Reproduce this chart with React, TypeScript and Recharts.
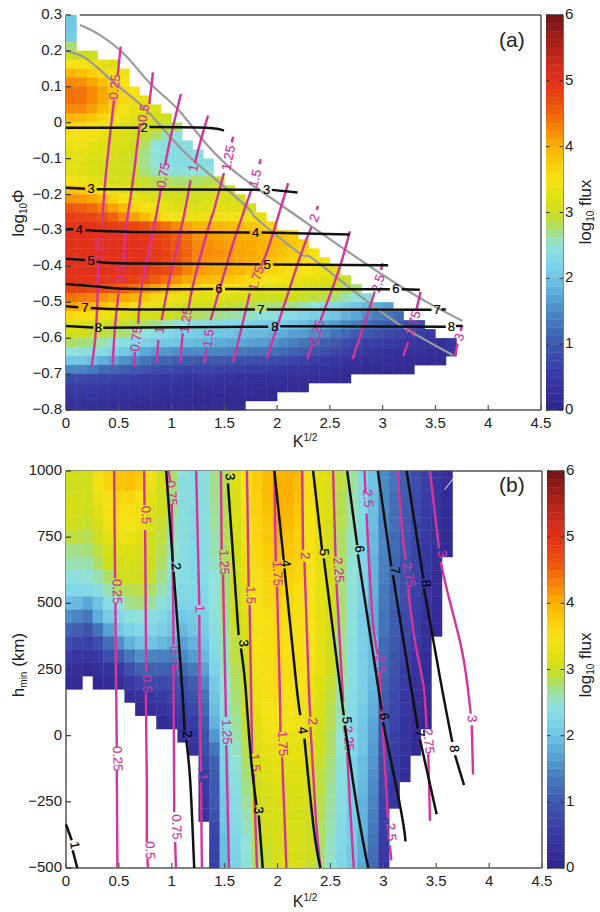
import React from "react";
import { ScatterChart, Scatter, XAxis, YAxis, ReferenceLine } from "recharts";

const FONT = "'Liberation Sans', Arial, sans-serif";
const PINK = "#d6339b";
const BLACK = "#111111";
const GRAY = "#9b9b9b";
const SPINE = "#555555";
const TEXT = "#222222";

const colorLevels = [0, 0.25, 0.5, 0.75, 1, 1.25, 1.5, 1.75, 2, 2.25, 2.5, 2.75, 3, 3.25, 3.5, 3.75, 4, 4.25, 4.5, 4.75, 5, 5.25, 5.5, 5.75, 6];
const colorTable = [
  [45, 38, 140], [52, 46, 150], [56, 56, 162], [58, 70, 168], [62, 88, 172], [66, 110, 182], [76, 138, 198], [90, 168, 214], [112, 196, 228], [128, 214, 232],
  [145, 226, 216], [168, 222, 118], [206, 222, 28], [226, 224, 18], [247, 226, 22], [250, 204, 10], [250, 176, 0], [246, 138, 4], [240, 98, 10], [232, 70, 18],
  [226, 48, 26], [204, 42, 26], [176, 36, 26], [145, 28, 24], [110, 20, 20],
];
function colorOf(v: number) {
  const i = Math.min(colorLevels.length - 2, Math.floor(Math.max(v, 0) / 0.25));
  const t = Math.max(0, Math.min(1, (v - colorLevels[i]) / 0.25));
  const a = colorTable[i], b = colorTable[i + 1];
  return `rgb(${a.map((c, j) => Math.round(c + (b[j] - c) * t)).join(",")})`;
}

// ---------- panel (a) heat map, rows from top (0.3) to bottom (-0.8) ----------
const heatA: number[][] = [
  [2.05], [2.05], [2.1], [2.75],
  [3.0, 3.0, 3.0],
  [3.5, 3.5, 3.4, 3.3, 3.2],
  [3.95, 3.85, 3.7, 3.6, 3.5, 3.4],
  [4.25, 4.2, 4.05, 3.85, 3.6, 3.5],
  [4.4, 4.4, 4.25, 4.05, 3.8, 3.6, 3.5],
  [4.4, 4.4, 4.25, 4.05, 3.8, 3.6, 3.4, 3.3],
  [4.25, 4.25, 4.1, 3.9, 3.7, 3.5, 3.3, 3.2, 3.1],
  [3.95, 3.9, 3.8, 3.65, 3.5, 3.35, 3.2, 3.15, 3.1, 3.0],
  [3.6, 3.55, 3.5, 3.4, 3.3, 3.2, 3.1, 3.05, 3.0, 2.9, 2.75],
  [3.5, 3.5, 3.4, 3.3, 3.2, 3.15, 3.05, 2.95, 2.8, 2.6, 2.5],
  [3.4, 3.4, 3.3, 3.2, 3.15, 3.1, 3.0, 2.8, 2.5, 2.4, 2.4, 2.4],
  [3.25, 3.25, 3.2, 3.15, 3.1, 3.05, 2.95, 2.7, 2.5, 2.4, 2.35, 2.35, 2.4],
  [3.2, 3.2, 3.15, 3.1, 3.05, 3.0, 2.9, 2.7, 2.5, 2.4, 2.35, 2.35, 2.4, 2.4],
  [3.3, 3.25, 3.15, 3.1, 3.05, 3.0, 2.95, 2.75, 2.6, 2.5, 2.45, 2.45, 2.5, 2.5],
  [3.5, 3.4, 3.3, 3.2, 3.1, 3.05, 3.0, 2.95, 2.85, 2.8, 2.75, 2.75, 2.8, 2.85, 2.9],
  [3.85, 3.8, 3.65, 3.45, 3.3, 3.2, 3.1, 3.05, 3.0, 3.0, 3.0, 3.0, 3.0, 3.05, 3.1, 3.05],
  [4.2, 4.15, 4.05, 3.9, 3.7, 3.5, 3.35, 3.25, 3.15, 3.1, 3.05, 3.05, 3.05, 3.1, 3.1, 3.1, 3.1],
  [4.6, 4.55, 4.45, 4.3, 4.1, 3.9, 3.65, 3.5, 3.35, 3.3, 3.2, 3.2, 3.2, 3.2, 3.25, 3.25, 3.2, 3.1],
  [4.85, 4.8, 4.75, 4.65, 4.5, 4.3, 4.1, 3.9, 3.7, 3.55, 3.45, 3.4, 3.4, 3.4, 3.45, 3.45, 3.45, 3.4, 3.3],
  [4.95, 4.95, 4.95, 4.9, 4.85, 4.8, 4.75, 4.65, 4.55, 4.4, 4.25, 4.1, 3.95, 3.95, 3.95, 3.9, 3.85, 3.8, 3.7, 3.6],
  [5, 5, 5, 5, 5, 5, 4.95, 4.9, 4.8, 4.7, 4.55, 4.4, 4.2, 4.15, 4.1, 4.05, 4.0, 4.0, 3.95, 3.9, 3.85, 3.75],
  [5, 5, 5, 5, 5, 5, 5, 4.95, 4.85, 4.75, 4.6, 4.45, 4.25, 4.2, 4.15, 4.1, 4.05, 4.05, 4.0, 3.95, 3.9, 3.8, 3.7],
  [5, 5, 5, 5, 5, 5, 5, 4.95, 4.9, 4.8, 4.65, 4.5, 4.3, 4.25, 4.2, 4.15, 4.1, 4.05, 4.0, 3.95, 3.85, 3.75, 3.65, 3.55],
  [5, 5, 5, 5, 5, 5, 5, 4.95, 4.9, 4.8, 4.65, 4.45, 4.25, 4.2, 4.15, 4.1, 4.05, 4.0, 3.95, 3.85, 3.75, 3.65, 3.55, 3.5, 3.4],
  [5, 5, 5, 5, 5, 5, 4.95, 4.9, 4.8, 4.7, 4.5, 4.3, 4.15, 4.1, 4.05, 4.0, 3.95, 3.85, 3.75, 3.65, 3.6, 3.55, 3.5, 3.45, 3.35, 3.25],
  [4.95, 4.95, 4.95, 4.9, 4.9, 4.85, 4.8, 4.7, 4.55, 4.4, 4.2, 4.05, 3.95, 3.9, 3.85, 3.8, 3.7, 3.6, 3.5, 3.45, 3.4, 3.35, 3.3, 3.3, 3.2, 3.1, 2.95],
  [4.8, 4.8, 4.75, 4.7, 4.65, 4.55, 4.4, 4.25, 4.1, 3.95, 3.8, 3.7, 3.6, 3.55, 3.5, 3.45, 3.4, 3.3, 3.25, 3.2, 3.2, 3.15, 3.15, 3.1, 3.05, 3.0, 2.85, 2.75],
  [4.4, 4.35, 4.3, 4.2, 4.1, 4.05, 3.95, 3.8, 3.6, 3.45, 3.35, 3.3, 3.2, 3.2, 3.2, 3.15, 3.1, 3.05, 3.0, 3.0, 3.0, 3.0, 2.95, 2.9, 2.85, 2.75, 2.6, 2.5, 2.4],
  [4.05, 4.0, 3.95, 3.85, 3.75, 3.7, 3.55, 3.4, 3.3, 3.2, 3.1, 3.05, 3.0, 3.0, 3.0, 2.95, 2.9, 2.85, 2.8, 2.75, 2.75, 2.7, 2.6, 2.5, 2.4, 2.3, 2.15, 2.0, 1.9, 1.8, 1.7],
  [3.6, 3.55, 3.5, 3.4, 3.3, 3.2, 3.15, 3.1, 3.05, 3.0, 2.95, 2.85, 2.8, 2.75, 2.7, 2.65, 2.6, 2.55, 2.5, 2.45, 2.4, 2.35, 2.25, 2.15, 2.1, 2, 1.85, 1.75, 1.55, 1.4, 1.3, 1.2],
  [3.2, 3.15, 3.1, 3.05, 3.0, 2.95, 2.85, 2.8, 2.7, 2.6, 2.5, 2.45, 2.4, 2.35, 2.3, 2.3, 2.25, 2.2, 2.15, 2.1, 2.1, 2, 1.95, 1.85, 1.75, 1.65, 1.5, 1.4, 1.25, 1.1, 1.05, 1, 0.9, 0.8],
  [3.0, 3.0, 2.95, 2.9, 2.85, 2.75, 2.65, 2.5, 2.4, 2.3, 2.2, 2.15, 2.1, 2.05, 2.0, 2.0, 1.95, 1.9, 1.9, 1.85, 1.8, 1.7, 1.65, 1.55, 1.45, 1.3, 1.2, 1.05, 1.0, 0.9, 0.8, 0.7, 0.65, 0.6, 0.55],
  [2.8, 2.75, 2.7, 2.6, 2.5, 2.4, 2.3, 2.2, 2.1, 2.05, 2.0, 1.95, 1.9, 1.85, 1.8, 1.75, 1.75, 1.7, 1.65, 1.6, 1.5, 1.4, 1.3, 1.2, 1.1, 1.0, 0.85, 0.75, 0.65, 0.6, 0.55, 0.5, 0.45, 0.4, 0.35, 0.3, 0.5],
  [2.5, 2.45, 2.4, 2.35, 2.2, 2.05, 1.95, 1.75, 1.65, 1.6, 1.55, 1.5, 1.5, 1.45, 1.45, 1.4, 1.35, 1.3, 1.3, 1.25, 1.2, 1.1, 1.05, 0.95, 0.85, 0.75, 0.65, 0.55, 0.45, 0.4, 0.35, 0.3, 0.3, 0.3, 0.25, 0.25, 0.4],
  [2.05, 2.05, 1.95, 1.8, 1.7, 1.55, 1.45, 1.3, 1.2, 1.15, 1.05, 1.05, 1, 1, 1, 0.95, 0.9, 0.9, 0.85, 0.8, 0.75, 0.7, 0.65, 0.55, 0.5, 0.45, 0.4, 0.35, 0.3, 0.3, 0.25, 0.25, 0.2, 0.2, 0.2, 0.2],
  [1.45, 1.45, 1.35, 1.2, 1.15, 1.05, 1, 0.95, 0.85, 0.8, 0.75, 0.7, 0.7, 0.7, 0.65, 0.65, 0.6, 0.55, 0.55, 0.5, 0.45, 0.45, 0.4, 0.35, 0.3, 0.3, 0.25, 0.25, 0.2, 0.2, 0.2, 0.15, 0.15],
  [0.8, 0.8, 0.75, 0.7, 0.7, 0.65, 0.6, 0.55, 0.5, 0.45, 0.45, 0.4, 0.4, 0.4, 0.35, 0.35, 0.3, 0.3, 0.3, 0.3, 0.25, 0.25, 0.25, 0.2, 0.2, 0.2, 0.15],
  [0.55, 0.55, 0.5, 0.5, 0.45, 0.45, 0.4, 0.4, 0.35, 0.35, 0.3, 0.3, 0.3, 0.3, 0.25, 0.25, 0.25, 0.25, 0.2, 0.2, 0.2, 0.2, 0.15],
  [0.4, 0.4, 0.4, 0.35, 0.35, 0.3, 0.3, 0.3, 0.3, 0.25, 0.25, 0.25, 0.2, 0.2, 0.2, 0.2, 0.2, 0.2, 0.15, 0.15],
  [0.3, 0.3, 0.3, 0.25, 0.25, 0.25, 0.2, 0.2, 0.2, 0.2, 0.2, 0.15, 0.15, 0.15, 0.15, 0.15, 0.15],
];

// ---------- panel (b) heat map ----------
const hminRows = [1000, 950, 900, 850, 800, 750, 700, 650, 600, 550, 500, 450, 400, 350, 300, 250, 200, 150, 100, 50, 0, -50, -100, -150, -200, -250, -300, -350, -400, -450, -500];
const N = null;
const heatBLeft: (number | null)[][] = [
  [3, 3, 3.05, 3.4, 3.7, 3.8, 3.85, 3.8, 3.4, 3.05, 2.8, 2.45, 2.35, 2.4],
  [3, 3, 3.05, 3.4, 3.65, 3.8, 3.85, 3.75, 3.4, 3.05, 2.75, 2.4, 2.35, 2.4],
  [3.05, 3.05, 3.05, 3.35, 3.55, 3.65, 3.65, 3.5, 3.3, 3.05, 2.7, 2.4, 2.35, 2.4],
  [3.1, 3.05, 3.0, 3.2, 3.5, 3.55, 3.55, 3.4, 3.2, 3.0, 2.7, 2.4, 2.3, 2.4],
  [3.05, 3.0, 2.95, 3.1, 3.4, 3.5, 3.5, 3.35, 3.1, 2.95, 2.6, 2.4, 2.3, 2.4],
  [2.9, 2.9, 2.85, 3.0, 3.3, 3.4, 3.35, 3.25, 3.05, 2.9, 2.55, 2.4, 2.3, 2.35],
  [2.7, 2.7, 2.75, 2.9, 3.1, 3.2, 3.2, 3.1, 3.05, 2.85, 2.55, 2.4, 2.3, 2.35],
  [2.6, 2.6, 2.6, 2.8, 3.0, 3.05, 3.1, 3.05, 3.0, 2.8, 2.5, 2.4, 2.3, 2.35],
  [2.45, 2.45, 2.5, 2.6, 2.8, 3.0, 3.05, 3.0, 2.95, 2.7, 2.45, 2.35, 2.3, 2.35],
  [2.25, 2.3, 2.3, 2.4, 2.6, 2.8, 2.85, 2.9, 2.8, 2.6, 2.4, 2.3, 2.3, 2.3],
  [1.95, 1.9, 1.75, 2.0, 2.35, 2.5, 2.7, 2.75, 2.65, 2.45, 2.3, 2.25, 2.25, 2.3],
  [1.55, 1.45, 1.35, 1.8, 2.1, 2.3, 2.45, 2.5, 2.4, 2.3, 2.1, 2.05, 2.1, 2.2],
  [1.15, 1.05, 0.95, 1.3, 1.7, 2.05, 2.2, 2.3, 2.25, 2.15, 2.0, 1.9, 2.0, 2.1],
  [0.85, 0.7, 0.65, 0.85, 1.25, 1.55, 1.85, 2.0, 2.0, 1.9, 1.8, 1.7, 1.85, 2.0],
  [0.55, 0.45, 0.4, 0.55, 0.85, 1.05, 1.35, 1.55, 1.45, 1.4, 1.4, 1.5, 1.65, 1.9],
  [0.35, 0.3, 0.2, 0.3, 0.4, 0.55, 0.9, 1.1, 1.1, 1.1, 1.1, 1.2, 1.35, 1.7],
  [0.15, 0.15, N, 0.1, 0.2, 0.3, 0.5, 0.7, 0.8, 0.8, 0.85, 0.9, 1.05, 1.5],
  [N, N, N, N, N, N, 0.3, 0.4, 0.5, 0.55, 0.7, 0.8, 0.9, 1.3],
  [N, N, N, N, N, N, N, 0.15, 0.3, 0.35, 0.5, 0.6, 0.75, 1.2],
  [N, N, N, N, N, N, N, N, N, 0.2, 0.3, 0.45, 0.55, 1.05],
  [N, N, N, N, N, N, N, N, N, N, N, 0.3, 0.45, 0.95],
  [N, N, N, N, N, N, N, N, N, N, N, N, 0.35, 0.85],
  [N, N, N, N, N, N, N, N, N, N, N, N, N, 0.7],
  [N, N, N, N, N, N, N, N, N, N, N, N, N, 0.6],
  [N, N, N, N, N, N, N, N, N, N, N, N, N, 0.55],
  [N, N, N, N, N, N, N, N, N, N, N, N, N, 0.45],
  [N, N, N, N, N, N, N, N, N, N, N, N, N, 0.4],
  [N, N, N, N, N, N, N, N, N, N, N, N, N, N],
  [N, N, N, N, N, N, N, N, N, N, N, N, N, N],
  [N, N, N, N, N, N, N, N, N, N, N, N, N, N],
  [N, N, N, N, N, N, N, N, N, N, N, N, N, N],
];
const heatBRight: number[][] = [
  [2.7, 2.85, 3.2, 3.5, 3.75, 3.9, 3.95, 4.0, 3.95, 3.55, 3.25, 3.15, 2.9, 2.65, 2.3, 2.0, 1.5, 1.3, 1.05, 0.85, 0.65, 0.45, 0.25],
  [2.7, 2.85, 3.2, 3.5, 3.75, 3.9, 4.0, 4.0, 3.9, 3.55, 3.25, 3.1, 2.9, 2.65, 2.3, 2.0, 1.5, 1.3, 1.05, 0.85, 0.6, 0.45, 0.25],
  [2.7, 2.85, 3.15, 3.5, 3.7, 3.9, 4.0, 4.0, 3.85, 3.55, 3.25, 3.1, 2.85, 2.6, 2.3, 1.95, 1.5, 1.25, 1.05, 0.8, 0.6, 0.4, 0.2],
  [2.65, 2.85, 3.15, 3.45, 3.7, 3.85, 4.0, 3.95, 3.8, 3.5, 3.25, 3.1, 2.85, 2.6, 2.3, 1.95, 1.5, 1.25, 1.0, 0.8, 0.55, 0.4, 0.2],
  [2.65, 2.85, 3.1, 3.4, 3.65, 3.8, 4.05, 3.9, 3.75, 3.5, 3.25, 3.05, 2.85, 2.6, 2.3, 1.95, 1.45, 1.25, 1.0, 0.75, 0.55, 0.35, 0.15],
  [2.6, 2.85, 3.1, 3.4, 3.65, 3.8, 3.95, 3.85, 3.7, 3.5, 3.25, 3.05, 2.8, 2.55, 2.25, 1.9, 1.45, 1.2, 0.95, 0.75, 0.5, 0.35, 0.15],
  [2.6, 2.8, 3.05, 3.35, 3.6, 3.75, 3.85, 3.8, 3.7, 3.5, 3.3, 3.05, 2.8, 2.55, 2.25, 1.9, 1.45, 1.2, 0.95, 0.7, 0.5, 0.3, 0.15],
  [2.55, 2.8, 3.05, 3.35, 3.6, 3.7, 3.8, 3.75, 3.65, 3.5, 3.3, 3.05, 2.8, 2.5, 2.25, 1.85, 1.4, 1.15, 0.9, 0.7, 0.45, 0.3],
  [2.5, 2.75, 3.05, 3.3, 3.55, 3.65, 3.75, 3.7, 3.6, 3.5, 3.3, 3.05, 2.75, 2.5, 2.2, 1.85, 1.4, 1.15, 0.9, 0.65, 0.45, 0.25],
  [2.5, 2.75, 3.0, 3.3, 3.5, 3.6, 3.7, 3.65, 3.55, 3.5, 3.3, 3.05, 2.75, 2.45, 2.2, 1.85, 1.35, 1.1, 0.85, 0.65, 0.4, 0.25],
  [2.5, 2.75, 3.0, 3.25, 3.5, 3.6, 3.65, 3.6, 3.55, 3.5, 3.3, 3.05, 2.75, 2.45, 2.2, 1.8, 1.35, 1.1, 0.85, 0.6, 0.4, 0.2],
  [2.45, 2.7, 3.0, 3.2, 3.5, 3.55, 3.6, 3.6, 3.55, 3.5, 3.3, 3.05, 2.75, 2.45, 2.15, 1.8, 1.3, 1.05, 0.8, 0.55, 0.35, 0.2],
  [2.4, 2.65, 2.95, 3.15, 3.45, 3.55, 3.6, 3.55, 3.55, 3.5, 3.3, 3.05, 2.7, 2.45, 2.15, 1.8, 1.3, 1.05, 0.75, 0.55, 0.3, 0.15],
  [2.35, 2.6, 2.9, 3.1, 3.5, 3.55, 3.6, 3.55, 3.55, 3.5, 3.3, 3.0, 2.7, 2.4, 2.15, 1.95, 1.2, 1.0, 0.7, 0.5, 0.3],
  [2.3, 2.6, 2.9, 3.05, 3.5, 3.55, 3.6, 3.55, 3.55, 3.5, 3.3, 3.0, 2.7, 2.4, 2.15, 1.95, 1.2, 0.95, 0.65, 0.45, 0.25],
  [2.2, 2.55, 2.85, 3.05, 3.45, 3.55, 3.6, 3.55, 3.55, 3.45, 3.3, 3.0, 2.7, 2.4, 2.15, 1.95, 1.15, 0.9, 0.6, 0.4, 0.2],
  [2.1, 2.5, 2.8, 3.0, 3.4, 3.55, 3.6, 3.55, 3.5, 3.4, 3.2, 2.95, 2.65, 2.4, 2.15, 1.9, 1.1, 0.85, 0.55, 0.35, 0.2],
  [2.0, 2.45, 2.75, 3.0, 3.35, 3.55, 3.55, 3.5, 3.45, 3.4, 3.2, 2.9, 2.6, 2.35, 2.15, 1.85, 1.05, 0.8, 0.5, 0.3, 0.15],
  [1.95, 2.4, 2.7, 3.0, 3.3, 3.5, 3.5, 3.5, 3.4, 3.35, 3.15, 2.85, 2.6, 2.35, 2.1, 1.8, 1.0, 0.75, 0.45, 0.3, 0.15],
  [1.85, 2.35, 2.65, 2.95, 3.25, 3.45, 3.45, 3.45, 3.4, 3.3, 3.05, 2.85, 2.55, 2.3, 2.05, 1.75, 1.0, 0.7, 0.4, 0.25, 0.1],
  [1.6, 2.3, 2.6, 2.9, 3.2, 3.4, 3.4, 3.35, 3.35, 3.3, 3.0, 2.8, 2.5, 2.3, 2.0, 1.7, 0.95, 0.65, 0.4, 0.2],
  [1.3, 2.25, 2.55, 2.85, 3.15, 3.3, 3.35, 3.3, 3.3, 3.2, 3.0, 2.8, 2.5, 2.25, 2.0, 1.65, 0.9, 0.6, 0.35, 0.15],
  [1.1, 2.2, 2.5, 2.8, 3.1, 3.25, 3.3, 3.25, 3.25, 3.15, 2.95, 2.75, 2.45, 2.2, 1.95, 1.6, 0.85, 0.55, 0.3],
  [1.05, 2.15, 2.45, 2.75, 3.05, 3.2, 3.25, 3.2, 3.2, 3.1, 2.9, 2.7, 2.4, 2.2, 1.95, 1.55, 0.8, 0.5, 0.3],
  [1.0, 2.1, 2.4, 2.7, 3.0, 3.15, 3.2, 3.15, 3.15, 3.1, 2.9, 2.65, 2.4, 2.15, 1.9, 1.5, 0.75, 0.45],
  [1.0, 2.05, 2.35, 2.65, 3.0, 3.1, 3.15, 3.15, 3.1, 3.05, 2.85, 2.65, 2.35, 2.15, 1.85, 1.45, 0.7, 0.4],
  [0.9, 2.05, 2.35, 2.6, 2.95, 3.1, 3.15, 3.1, 3.1, 3.05, 2.85, 2.6, 2.35, 2.1, 1.85, 1.4, 0.65],
  [0.75, 2.0, 2.3, 2.55, 2.9, 3.05, 3.1, 3.1, 3.1, 3.0, 2.8, 2.6, 2.3, 2.1, 1.85, 1.35, 0.6],
  [0.7, 1.95, 2.25, 2.5, 2.85, 3.0, 3.1, 3.1, 3.1, 3.0, 2.8, 2.55, 2.3, 2.1, 1.8, 1.3, 0.55],
  [0.65, 1.95, 2.2, 2.5, 2.8, 2.95, 3.1, 3.15, 3.1, 3.0, 2.75, 2.55, 2.3, 2.05, 1.8, 1.25, 0.5],
  [0.6, 1.9, 2.2, 2.45, 2.8, 2.95, 3.1, 3.15, 3.1, 2.95, 2.75, 2.5, 2.25, 2.05, 1.75, 1.2, 0.45],
];

// ---------- contour lines: pieces between labels, with labels [x, y, rotation] ----------
type Contour = { level: string; segs: number[][][]; marks: number[][] };

const pinkA: Contour[] = [
  { level: "0.25", segs: [[[0.518, 0.212], [0.49, 0.133]], [[0.455, 0.063], [0.379, -0.14], [0.341, -0.29]], [[0.303, -0.39], [0.298, -0.494], [0.275, -0.605], [0.243, -0.678]]], marks: [[0.459, 0.1, -84], [0.317, -0.355, -86]] },
  { level: "0.5", segs: [[[0.824, 0.14], [0.789, 0.052]], [[0.7, -0.001], [0.622, -0.187], [0.568, -0.293], [0.543, -0.391]], [[0.505, -0.458], [0.464, -0.569], [0.442, -0.678]]], marks: [[0.734, 0.027, -80], [0.521, -0.419, -84]] },
  { level: "0.75", segs: [[[1.089, 0.08], [1.0, -0.029], [0.94, -0.115]], [[0.9, -0.182], [0.827, -0.299], [0.717, -0.458], [0.685, -0.56]], [[0.653, -0.639], [0.647, -0.681]]], marks: [[0.92, -0.146, -80], [0.663, -0.602, -83]] },
  { level: "1", segs: [[[1.345, 0.02], [1.269, -0.057], [1.222, -0.112]], [[1.18, -0.16], [1.095, -0.29], [0.985, -0.43], [0.906, -0.55]], [[0.875, -0.605], [0.859, -0.669]]], marks: [[1.206, -0.126, -80], [0.884, -0.577, -84]] },
  { level: "1.25", segs: [[[1.584, -0.039], [1.57, -0.055]], [[1.496, -0.14], [1.394, -0.252], [1.37, -0.271], [1.222, -0.43], [1.158, -0.522]], [[1.105, -0.586], [1.08, -0.669]]], marks: [[1.536, -0.098, -78], [1.136, -0.55, -82]] },
  { level: "1.5", segs: [[[1.844, -0.101], [1.832, -0.115]], [[1.752, -0.19], [1.632, -0.293], [1.555, -0.363], [1.37, -0.55]], [[1.333, -0.628], [1.316, -0.669]]], marks: [[1.79, -0.155, -75], [1.348, -0.6, -83]] },
  { level: "1.75", segs: [[[2.105, -0.168], [1.98, -0.29], [1.9, -0.363], [1.845, -0.4]], [[1.742, -0.475], [1.584, -0.667]]], marks: [[1.8, -0.433, -72]] },
  { level: "2", segs: [[[2.386, -0.232], [2.376, -0.243]], [[2.326, -0.29], [2.197, -0.391], [1.903, -0.656]]], marks: [[2.352, -0.265, -68]] },
  { level: "2.25", segs: [[[2.689, -0.302], [2.585, -0.41], [2.412, -0.55]], [[2.336, -0.616], [2.285, -0.658]]], marks: [[2.374, -0.583, -72]] },
  { level: "2.5", segs: [[[2.999, -0.391], [2.985, -0.41]], [[2.925, -0.47], [2.879, -0.513], [2.715, -0.658]]], marks: [[2.955, -0.447, -72]] },
  { level: "2.75", segs: [[[3.359, -0.471], [3.32, -0.52]], [[3.242, -0.611], [3.195, -0.65]]], marks: [[3.286, -0.558, -72]] },
  { level: "3", segs: [[[3.753, -0.563], [3.74, -0.58]], [[3.71, -0.615], [3.684, -0.65]]], marks: [[3.724, -0.597, -75]] },
];

const blackA: Contour[] = [
  { level: "2", segs: [[[0, -0.014], [0.685, -0.014]], [[0.79, -0.012], [1.332, -0.014], [1.496, -0.022]]], marks: [[0.739, -0.012, 0]] },
  { level: "3", segs: [[[0, -0.181], [0.18, -0.184]], [[0.29, -0.185], [1.837, -0.187]], [[1.95, -0.187], [2.194, -0.194]]], marks: [[0.237, -0.184, 0], [1.9, -0.187, 0]] },
  { level: "4", segs: [[[0, -0.297], [0.07, -0.297]], [[0.18, -0.299], [0.635, -0.304], [1.742, -0.306]], [[1.853, -0.306], [2.689, -0.311]]], marks: [[0.126, -0.297, 0], [1.796, -0.306, 0]] },
  { level: "5", segs: [[[0, -0.379], [0.18, -0.382]], [[0.29, -0.387], [0.637, -0.392], [1.837, -0.394]], [[1.963, -0.395], [3.052, -0.397]]], marks: [[0.237, -0.384, 0], [1.906, -0.394, 0]] },
  { level: "6", segs: [[[0, -0.449], [0.322, -0.457], [0.637, -0.463], [1.395, -0.463]], [[1.506, -0.463], [2.216, -0.464], [3.068, -0.464]], [[3.179, -0.464], [3.352, -0.465]]], marks: [[1.449, -0.463, 0], [3.125, -0.463, 0]] },
  { level: "7", segs: [[[0, -0.511], [0.117, -0.514]], [[0.234, -0.516], [0.637, -0.52], [1.79, -0.52]], [[1.9, -0.52], [3.463, -0.521]], [[3.557, -0.52], [3.598, -0.52]]], marks: [[0.18, -0.514, 0], [1.847, -0.52, 0], [3.517, -0.52, 0]] },
  { level: "8", segs: [[[0, -0.566], [0.259, -0.57]], [[0.353, -0.571], [1.916, -0.568]], [[2.03, -0.567], [3.598, -0.568]], [[3.693, -0.566], [3.756, -0.566]]], marks: [[0.306, -0.57, 0], [1.979, -0.567, 0], [3.652, -0.567, 0]] },
];

const grayA: number[][][] = [
  [[0.133, 0.272], [0.322, 0.244], [0.575, 0.184], [0.795, 0.11], [1.048, 0.041], [1.297, -0.048], [1.581, -0.132], [1.9, -0.201], [2.216, -0.266], [2.623, -0.349], [3.002, -0.424], [3.416, -0.499], [3.756, -0.552]],
  [[0, 0.2], [0.161, 0.184], [0.322, 0.147], [0.54, 0.091], [0.764, 0.035], [0.985, -0.039], [1.203, -0.104], [1.458, -0.168], [1.742, -0.243], [1.821, -0.271], [2.216, -0.364], [2.31, -0.373], [2.689, -0.46], [3.163, -0.563], [3.665, -0.647]],
];

const pinkB: Contour[] = [
  { level: "0.25", segs: [[[0.455, 1000], [0.464, 595]], [[0.467, 500], [0.474, 192], [0.48, -42]], [[0.48, -131], [0.486, -500]]], marks: [[0.486, 544, 88], [0.489, -87, 88]] },
  { level: "0.5", segs: [[[0.739, 1000], [0.742, 872]], [[0.748, 777], [0.758, 242]], [[0.755, 159], [0.764, -175], [0.764, -402]], [[0.77, -465], [0.774, -500]]], marks: [[0.758, 834, 88], [0.768, 195, 88], [0.796, -433, 88]] },
  { level: "0.75", segs: [[[0.969, 1000], [0.985, 960]], [[1.0, 872], [1.01, 607], [1.017, 343]], [[1.017, 242], [1.017, 203], [1.023, -288]], [[1.032, -402], [1.039, -500]]], marks: [[1.0, 916, 85], [1.033, 292, 88], [1.048, -345, 88]] },
  { level: "1", segs: [[[1.231, 1000], [1.26, 494]], [[1.26, 456], [1.263, 192], [1.276, -137]], [[1.276, -175], [1.285, -500]]], marks: [[1.269, 481, 88], [1.295, -156, 88]] },
  { level: "1.25", segs: [[[1.465, 1000], [1.471, 702]], [[1.484, 607], [1.506, 192], [1.512, 71]], [[1.515, -36], [1.541, -500]]], marks: [[1.497, 655, 88], [1.522, 14, 88]] },
  { level: "1.5", segs: [[[1.711, 1000], [1.727, 563]], [[1.736, 494], [1.749, 192], [1.759, -68]], [[1.774, -143], [1.806, -500]]], marks: [[1.749, 531, 88], [1.79, -102, 85]] },
  { level: "1.75", segs: [[[1.97, 1000], [1.983, 658]], [[1.995, 563], [2.02, 192], [2.027, 14]], [[2.043, -80], [2.084, -500]]], marks: [[2.002, 613, 88], [2.052, -30, 87]] },
  { level: "2", segs: [[[2.232, 1000], [2.241, 702]], [[2.254, 657], [2.295, 192], [2.311, 71]], [[2.311, 33], [2.36, -300], [2.405, -500]]], marks: [[2.263, 680, 88], [2.333, 54, 88]] },
  { level: "2.25", segs: [[[2.525, 1000], [2.548, 676]], [[2.557, 576], [2.611, 192], [2.62, 140]], [[2.658, -61], [2.69, -300], [2.721, -500]]], marks: [[2.579, 626, 85], [2.674, -11, 85]] },
  { level: "2.5", segs: [[[2.822, 1000], [2.832, 916]], [[2.841, 840], [2.895, 456], [2.948, 305]], [[2.964, 242], [3.005, -49], [3.043, -313]], [[3.062, -414], [3.075, -471]]], marks: [[2.857, 897, 85], [2.974, 270, 84], [3.075, -364, 85]] },
  { level: "2.75", segs: [[[3.132, 1000], [3.179, 771], [3.21, 664]], [[3.233, 557], [3.305, 343], [3.378, 192], [3.409, 27]], [[3.425, -68], [3.441, -322]]], marks: [[3.242, 607, 80], [3.431, -21, 85]] },
  { level: "3", segs: [[[3.441, 1000], [3.479, 872], [3.526, 708]], [[3.542, 657], [3.621, 519], [3.732, 343], [3.795, 192], [3.826, 83]], [[3.836, 39], [3.848, -147]]], marks: [[3.558, 686, 80], [3.842, 64, 85]] },
];

const blackB: Contour[] = [
  { level: "1", segs: [[[0, -335], [0.054, -395]], [[0.063, -433], [0.107, -500]]], marks: [[0.085, -414, 80]] },
  { level: "2", segs: [[[0.947, 1000], [1.01, 657]], [[1.017, 620], [1.048, 456], [1.096, 192], [1.121, 20]], [[1.137, -17], [1.175, -175], [1.212, -500]]], marks: [[1.042, 639, 85], [1.149, 5, 85]] },
  { level: "3", segs: [[[1.531, 953], [1.632, 380]], [[1.654, 330], [1.695, 192], [1.743, -61], [1.8, -263]], [[1.822, -301], [1.86, -500]]], marks: [[1.553, 978, 85], [1.68, 349, 85], [1.822, -282, 85]] },
  { level: "4", segs: [[[1.97, 1000], [2.058, 664]], [[2.065, 632], [2.178, 192], [2.216, 77]], [[2.254, -11], [2.342, -351], [2.405, -500]]], marks: [[2.08, 651, 85], [2.241, 20, 85]] },
  { level: "5", segs: [[[2.336, 1000], [2.421, 702]], [[2.437, 670], [2.589, 192], [2.626, 77]], [[2.636, 39], [2.753, -275], [2.857, -500]]], marks: [[2.443, 693, 85], [2.658, 58, 85]] },
  { level: "6", segs: [[[2.658, 1000], [2.753, 720]], [[2.759, 685], [2.948, 192], [2.98, 96]], [[2.996, 52], [3.163, -275], [3.21, -399]]], marks: [[2.778, 705, 85], [3.012, 73, 85]] },
  { level: "7", segs: [[[2.948, 1000], [3.075, 639]], [[3.09, 607], [3.258, 192], [3.327, 27]], [[3.346, -14], [3.504, -297]]], marks: [[3.116, 624, 85], [3.346, 8, 85]] },
  { level: "8", segs: [[[3.22, 1000], [3.378, 594]], [[3.384, 556], [3.548, 192], [3.652, -24]], [[3.678, -74], [3.763, -187]]], marks: [[3.406, 575, 85], [3.674, -49, 85]] },
];

const whiteB: number[][] = [[3.58, 930], [3.668, 975]];

const barLevels = [0.0625, 0.1875, 0.3125, 0.4375, 0.5625, 0.6875, 0.8125, 0.9375, 1.0625, 1.1875, 1.3125, 1.4375, 1.5625, 1.6875, 1.8125, 1.9375, 2.0625, 2.1875, 2.3125, 2.4375, 2.5625, 2.6875, 2.8125, 2.9375, 3.0625, 3.1875, 3.3125, 3.4375, 3.5625, 3.6875, 3.8125, 3.9375, 4.0625, 4.1875, 4.3125, 4.4375, 4.5625, 4.6875, 4.8125, 4.9375, 5.0625, 5.1875, 5.3125, 5.4375, 5.5625, 5.6875, 5.8125, 5.9375];

const xTicks = [0, 0.5, 1, 1.5, 2, 2.5, 3, 3.5, 4, 4.5];
const yTicksA = [0.3, 0.2, 0.1, 0, -0.1, -0.2, -0.3, -0.4, -0.5, -0.6, -0.7, -0.8];
const yTicksB = [1000, 750, 500, 250, 0, -250, -500];
const barTicks = [0, 1, 2, 3, 4, 5, 6];

type CellDatum = { x: number; y: number; x0: number; x1: number; y0: number; y1: number; v: number };

const cellsA: CellDatum[] = heatA.flatMap((row, r) =>
  row.map((v, k) => {
    const y1 = 0.3 - 0.025 * r;
    return { x: (k + 0.5) / 10, y: y1 - 0.0125, x0: k / 10, x1: (k + 1) / 10, y0: y1 - 0.025, y1, v };
  })
);
const cellsB: CellDatum[] = hminRows.flatMap((h, r) =>
  [...heatBLeft[r], ...heatBRight[r]].flatMap((v, k) =>
    v === null
      ? []
      : [{ x: k / 10, y: h, x0: Math.max(0, k / 10 - 0.045), x1: k / 10 + 0.055, y0: Math.max(-500, h - 25), y1: Math.min(1000, h + 25), v }]
  )
);
const cellsBar: CellDatum[] = barLevels.map((v) => ({ x: 0.5, y: v, x0: 0, x1: 1, y0: v - 0.0625, y1: v + 0.0625, v }));

const makeCell = (pxX: number, pxY: number) => (p: any) => {
  const d: CellDatum = p.payload;
  const left = p.cx + (d.x0 - d.x) * pxX;
  const top = p.cy - (d.y1 - d.y) * pxY;
  const fill = colorOf(d.v);
  return <rect x={left} y={top} width={(d.x1 - d.x0) * pxX} height={(d.y1 - d.y0) * pxY} fill={fill} stroke={fill} strokeWidth={0.4} />;
};

const noDot = () => <g />;
const fmt = (v: number) => String(v).replace("-", "\u2212");

const xTick = (p: any) => (
  <g>
    <line x1={p.x} x2={p.x} y1={p.y} y2={p.y - 5} stroke={SPINE} strokeWidth={1.2} />
    <text x={p.x} y={p.y + 18} textAnchor="middle" fontSize={15} fontFamily={FONT} fill={TEXT}>{fmt(p.payload.value)}</text>
  </g>
);
const yTick = (p: any) => (
  <g>
    <line x1={p.x} x2={p.x + 5} y1={p.y} y2={p.y} stroke="#333" strokeWidth={1.2} />
    <text x={p.x - 4} y={p.y + 4} textAnchor="end" fontSize={15} fontFamily={FONT} fill={TEXT}>{fmt(p.payload.value)}</text>
  </g>
);
const barTick = (p: any) => (
  <g>
    <line x1={p.x} x2={p.x - 3.5} y1={p.y} y2={p.y} stroke="#333" strokeWidth={1} />
    <line x1={p.x - 17} x2={p.x - 13.5} y1={p.y} y2={p.y} stroke="#333" strokeWidth={1} />
    <text x={p.x + 2} y={p.y + 4} textAnchor="start" fontSize={15} fontFamily={FONT} fill={TEXT}>{p.payload.value}</text>
  </g>
);

const toPts = (seg: number[][]) => seg.map(([x, y]) => ({ x, y }));
const markShape = (color: string, text: string) => (p: any) => (
  <text
    x={p.cx}
    y={p.cy}
    transform={`rotate(${p.payload.angle} ${p.cx} ${p.cy})`}
    textAnchor="middle"
    dominantBaseline="central"
    fontSize={13}
    fontFamily={FONT}
    fill={color}
    stroke={color}
    strokeWidth={0.2}
  >
    {text}
  </text>
);

function lines(segs: number[][][], color: string, width: number, key: string) {
  return segs.map((seg, i) => (
    <Scatter
      key={`${key}-${i}`}
      data={toPts(seg)}
      shape={noDot}
      line={{ stroke: color, strokeWidth: width, fill: "none" }}
      lineJointType="natural"
      isAnimationActive={false}
    />
  ));
}
function contours(list: Contour[], color: string, width: number, key: string) {
  return list.flatMap((c) => [
    ...lines(c.segs, color, width, `${key}-${c.level}`),
    <Scatter
      key={`${key}-${c.level}-m`}
      data={c.marks.map(([x, y, angle]) => ({ x, y, angle }))}
      shape={markShape(color === PINK ? PINK : "#000", c.level)}
      isAnimationActive={false}
    />,
  ]);
}

function Title({ x, y, children }: { x: number; y: number; children: React.ReactNode }) {
  return <text x={x} y={y} fontSize={17} fontFamily={FONT} fill={TEXT} textAnchor="middle" transform={`rotate(-90 ${x} ${y})`}>{children}</text>;
}

export default function App() {
  return (
    <div style={{ position: "absolute", left: 0, top: 0, width: 600, height: 912, background: "#fff", overflow: "hidden" }}>
      <div style={{ position: "absolute", left: 0, top: 0 }}>
        <ScatterChart width={560} height={450} margin={{ top: 15, right: 19, bottom: 10, left: 0 }}>
          <XAxis type="number" dataKey="x" domain={[0, 4.5]} ticks={xTicks} interval={0} height={30} tickSize={0} tickMargin={0} tickLine={false} axisLine={{ stroke: SPINE, strokeWidth: 1.5 }} tick={xTick} />
          <YAxis type="number" dataKey="y" domain={[-0.8, 0.3]} ticks={yTicksA} interval={0} width={66} tickSize={0} tickMargin={0} tickLine={false} axisLine={{ stroke: SPINE, strokeWidth: 1.5 }} tick={yTick} />
          <Scatter data={cellsA} shape={makeCell(475 / 4.5, 395 / 1.1)} isAnimationActive={false} />
          {lines(grayA, GRAY, 2.2, "gray")}
          {contours(pinkA, PINK, 2.4, "pa")}
          {contours(blackA, BLACK, 2.5, "ba")}
          <ReferenceLine segment={[{ x: 0.13, y: 0.3 }, { x: 4.5, y: 0.3 }]} stroke={SPINE} strokeWidth={1.5} />
          <ReferenceLine x={4.5} stroke={SPINE} strokeWidth={1.5} />
        </ScatterChart>
      </div>
      <div style={{ position: "absolute", left: 546, top: 0 }}>
        <ScatterChart width={54} height={420} margin={{ top: 15, right: 0, bottom: 10, left: 0 }}>
          <XAxis type="number" dataKey="x" domain={[0, 1]} hide />
          <YAxis type="number" dataKey="y" orientation="right" width={37} domain={[0, 6]} ticks={barTicks} interval={0} tickSize={0} tickMargin={0} tickLine={false} axisLine={{ stroke: SPINE, strokeWidth: 1.5 }} tick={barTick} />
          <Scatter data={cellsBar} shape={makeCell(17, 395 / 6)} isAnimationActive={false} />
          <ReferenceLine x={0} stroke={SPINE} strokeWidth={1.5} />
          <ReferenceLine y={6} stroke={SPINE} strokeWidth={1.5} />
          <ReferenceLine y={0} stroke={SPINE} strokeWidth={1.5} />
        </ScatterChart>
      </div>

      <div style={{ position: "absolute", left: 0, top: 456 }}>
        <ScatterChart width={560} height={456} margin={{ top: 15, right: 18, bottom: 14, left: 0 }}>
          <XAxis type="number" dataKey="x" domain={[0, 4.5]} ticks={xTicks} interval={0} height={30} tickSize={0} tickMargin={0} tickLine={false} axisLine={{ stroke: SPINE, strokeWidth: 1.5 }} tick={xTick} />
          <YAxis type="number" dataKey="y" domain={[-500, 1000]} ticks={yTicksB} interval={0} width={66} tickSize={0} tickMargin={0} tickLine={false} axisLine={{ stroke: SPINE, strokeWidth: 1.5 }} tick={yTick} />
          <Scatter data={cellsB} shape={makeCell(476 / 4.5, 397 / 1500)} isAnimationActive={false} />
          {contours(pinkB, PINK, 2.4, "pb")}
          {contours(blackB, BLACK, 2.5, "bb")}
          {lines([whiteB], "#ffffff", 1, "wb")}
          <ReferenceLine y={1000} stroke={SPINE} strokeWidth={1.5} />
          <ReferenceLine x={4.5} stroke={SPINE} strokeWidth={1.5} />
        </ScatterChart>
      </div>
      <div style={{ position: "absolute", left: 547, top: 456 }}>
        <ScatterChart width={53} height={422} margin={{ top: 15, right: 0, bottom: 10, left: 0 }}>
          <XAxis type="number" dataKey="x" domain={[0, 1]} hide />
          <YAxis type="number" dataKey="y" orientation="right" width={36} domain={[0, 6]} ticks={barTicks} interval={0} tickSize={0} tickMargin={0} tickLine={false} axisLine={{ stroke: SPINE, strokeWidth: 1.5 }} tick={barTick} />
          <Scatter data={cellsBar} shape={makeCell(17, 397 / 6)} isAnimationActive={false} />
          <ReferenceLine x={0} stroke={SPINE} strokeWidth={1.5} />
          <ReferenceLine y={6} stroke={SPINE} strokeWidth={1.5} />
          <ReferenceLine y={0} stroke={SPINE} strokeWidth={1.5} />
        </ScatterChart>
      </div>

      <svg width={600} height={912} style={{ position: "absolute", left: 0, top: 0, pointerEvents: "none" }}>
        <text x={499} y={47} fontSize={21} fontFamily={FONT} fill={TEXT}>(a)</text>
        <text x={499} y={492} fontSize={21} fontFamily={FONT} fill={TEXT}>(b)</text>
        <Title x={24} y={213}>log<tspan fontSize={10} dy={3}>10</tspan><tspan dy={-3}>Φ</tspan></Title>
        <Title x={24} y={665}>h<tspan fontSize={10} dy={3}>min</tspan><tspan dy={-3}> (km)</tspan></Title>
        <Title x={591} y={212}>log<tspan fontSize={10} dy={3}>10</tspan><tspan dy={-3}> flux</tspan></Title>
        <Title x={591} y={665}>log<tspan fontSize={10} dy={3}>10</tspan><tspan dy={-3}> flux</tspan></Title>
        <text x={305} y={447} fontSize={16} fontFamily={FONT} fill={TEXT} textAnchor="middle">K<tspan fontSize={10} dy={-6}>1/2</tspan></text>
        <text x={305} y={907} fontSize={16} fontFamily={FONT} fill={TEXT} textAnchor="middle">K<tspan fontSize={10} dy={-6}>1/2</tspan></text>
      </svg>
    </div>
  );
}
